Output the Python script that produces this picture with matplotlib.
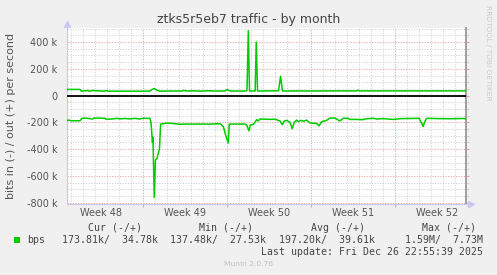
import matplotlib
matplotlib.use("Agg")
import matplotlib.pyplot as plt
from matplotlib.patches import Rectangle
import numpy as np

# ---- data (days relative to start of Week 49; values in bits/s) ----
out_days = [-6.33, -5.25, -5.13, -4.6, -4.45, -4.25, -3.2, -3.03, -2.9, -1.0, 0.0, 0.58, 0.75, 0.92,
            1.17, 1.42, 2.0, 3.2, 3.4, 3.7, 4.2, 4.5, 5.0, 5.5, 6.0, 6.8, 6.95, 7.1, 7.3, 8.0,
            8.6, 8.67, 8.78, 8.88, 9.0, 9.35, 9.44, 9.55, 9.7, 10.5, 11.3, 11.47, 11.62, 12.0,
            13.0, 14.0, 15.0, 16.0, 17.8, 17.9, 18.0, 19.0, 20.0, 22.0, 24.0, 26.0, 26.9]
out_vals = [46e3, 46e3, 33e3, 38e3, 33e3, 38e3, 33e3, 38e3, 33e3, 33e3, 33e3, 34e3, 45e3, 53e3,
            40e3, 33e3, 34e3, 34e3, 38e3, 34e3, 36e3, 34e3, 34e3, 36e3, 34e3, 34e3, 42e3, 42e3, 34e3, 34e3,
            34e3, 40e3, 485e3, 35e3, 34e3, 35e3, 400e3, 35e3, 34e3, 35e3, 36e3, 145e3, 35e3, 34e3,
            35e3, 34e3, 35e3, 35e3, 35e3, 40e3, 35e3, 35e3, 35e3, 35e3, 35e3, 35e3, 35e3]

in_days = [-6.33, -6.17, -6.0, -5.67, -5.25, -5.08, -4.83, -4.42, -4.17, -4.08, -3.58, -3.17, -3.08,
           -2.75, -2.33, -2.17, -1.92, -1.5, -1.08, -0.67, -0.25, -0.08, 0.58, 0.67, 0.75, 0.79,
           0.83, 0.94, 1.04, 1.17, 1.25, 1.375, 1.47, 2.0, 2.5, 3.0, 3.5, 4.0, 5.5, 6.42, 6.69,
           6.97, 7.11, 7.19, 8.5, 8.64, 8.83, 8.94, 9.19, 9.33, 9.47, 9.6, 9.75, 10.2, 10.6, 11.0,
           11.42, 11.61, 11.78, 11.97, 12.25, 12.44, 12.61, 12.81, 12.94, 13.17, 13.36, 13.64,
           13.92, 14.47, 14.67, 14.89, 15.31, 15.58, 16.0, 16.4, 16.7, 17.1, 17.25, 17.8, 18.3,
           18.6, 19.2, 19.5, 20.0, 20.86, 21.5, 23.0, 23.36, 23.45, 23.64, 24.75, 25.6, 26.7, 26.9]
in_vals = [186e3, 183e3, 188e3, 188e3, 188e3, 170e3, 168e3, 172e3, 175e3, 168e3, 168e3, 170e3, 176e3,
           176e3, 172e3, 170e3, 174e3, 171e3, 174e3, 170e3, 175e3, 170e3, 170e3, 200e3, 300e3, 350e3,
           310e3, 760e3, 480e3, 470e3, 440e3, 400e3, 213e3, 205e3, 208e3, 214e3, 213e3, 213e3, 213e3, 210e3, 230e3,
           320e3, 354e3, 213e3, 213e3, 220e3, 263e3, 220e3, 215e3, 200e3, 180e3, 190e3, 175e3, 176e3, 178e3, 176e3,
           190e3, 218e3, 190e3, 185e3, 200e3, 248e3, 200e3, 183e3, 195e3, 185e3, 192e3, 183e3,
           205e3, 208e3, 226e3, 195e3, 185e3, 168e3, 168e3, 190e3, 169e3, 170e3, 178e3, 178e3, 180e3,
           173e3, 170e3, 175e3, 172e3, 178e3, 172e3, 170e3, 231e3, 200e3, 170e3, 172e3, 173e3, 171e3, 174e3]

week_boundaries = [0, 7, 14, 21]
week_label_days = [-3.5, 3.5, 10.5, 17.5, 24.5]
week_labels = ["Week 48", "Week 49", "Week 50", "Week 51", "Week 52"]
y_major = [-800e3, -600e3, -400e3, -200e3, 0, 200e3, 400e3]
y_labels = ["-800 k", "-600 k", "-400 k", "-200 k", "0", "200 k", "400 k"]

title = "ztks5r5eb7 traffic - by month"
ylabel = "bits in (-) / out (+) per second"
headers = ["Cur (-/+)", "Min (-/+)", "Avg (-/+)", "Max (-/+)"]
stats = ["173.81k/  34.78k", "137.48k/  27.53k", "197.20k/  39.61k", "1.59M/  7.73M"]
series_name = "bps"
last_update = "Last update: Fri Dec 26 22:55:39 2025"
footer = "Munin 2.0.76"
side_text = "RRDTOOL / TOBI OETIKER"

# ---- figure ----
W, H = 497, 275
fig = plt.figure(figsize=(W / 100, H / 100), dpi=100, facecolor="#F0F0F0")
L, R, T, B = 67, 466, 28, 204
ax = fig.add_axes([L / W, 1 - B / H, (R - L) / W, (B - T) / H])
ax.set_facecolor("white")

ax.set_xlim(-6.33, 26.92)
ax.set_ylim(-810e3, 505e3)

green = "#00CC00"
ax.plot(out_days, out_vals, color=green, lw=1.1, zorder=4)
ax.plot(in_days, -np.array(in_vals), color=green, lw=1.1, zorder=4)
ax.axhline(0, color="black", lw=1.3, zorder=3)

# grid
ax.set_xticks(week_boundaries)
ax.set_xticks(np.arange(-6, 27, 1), minor=True)
ax.set_yticks(y_major)
ax.set_yticklabels(y_labels)
ax.set_yticks(np.arange(-800e3, 505e3, 50e3), minor=True)
ax.grid(which="minor", color="#d2d2d2", lw=0.7, linestyle=(0, (1.2, 1.5)), zorder=1)
ax.grid(which="major", color="#e9a3a3", lw=0.7, linestyle=(0, (1.2, 1.5)), zorder=2)

ax.tick_params(axis="x", which="major", labelbottom=False, length=2.5, color="#e9a3a3", direction="out")
ax.tick_params(axis="x", which="minor", length=0)
ax.tick_params(axis="y", which="major", left=False, right=True, labelleft=True, length=2,
               color="#e9a3a3", labelsize=7, labelcolor="#555555", pad=5)
ax.tick_params(axis="y", which="minor", left=False, right=True, length=2, color="#cccccc")

for lab in ax.get_yticklabels():
    lab.set_fontfamily("DejaVu Sans")

for d, lab in zip(week_label_days, week_labels):
    ax.text(d, -0.05, lab, transform=ax.get_xaxis_transform(), ha="center", va="center",
            fontsize=7, color="#555555")

ax.spines["top"].set_visible(False)
ax.spines["left"].set_color("#c8c8ee")
ax.spines["bottom"].set_color("#c8c8ee")
ax.spines["left"].set_linewidth(0.8)
ax.spines["bottom"].set_linewidth(0.8)
ax.spines["right"].set_color("#a0a0a0")
ax.spines["right"].set_linewidth(1.4)

# axis arrows
ax.plot([0], [1.025], marker="^", ms=4, color="#c8c8ee", transform=ax.transAxes, clip_on=False)
ax.plot([1.013], [0], marker=">", ms=4, color="#c8c8ee", transform=ax.transAxes, clip_on=False)

def fx(px):
    return px / W

def fy(py):
    return 1 - py / H

fig.text(fx(248.5), fy(19), title, ha="center", va="center", fontsize=9, color="#444444")
fig.text(fx(11), fy(116), ylabel, ha="center", va="center", rotation=90, fontsize=8, color="#555555")
fig.text(fx(488), fy(53), side_text, ha="center", va="center", rotation=270, fontsize=5.4, color="#cccccc")

mono = "DejaVu Sans Mono"
hdr_right = [142.3, 253.3, 365, 476]
for x, h in zip(hdr_right, headers):
    fig.text(fx(x), fy(228), h, ha="right", va="center", fontsize=7.1, family=mono, color="#444444")
stat_right = [157.7, 265.7, 374.7, 482.7]
for x, s in zip(stat_right, stats):
    fig.text(fx(x), fy(240), s, ha="right", va="center", fontsize=7.1, family=mono, color="#444444")
fig.text(fx(26.7), fy(240), series_name, ha="left", va="center", fontsize=7.1, family=mono, color="#444444")
fig.patches.append(Rectangle((fx(14), fy(243)), 6 / W, 6 / H, transform=fig.transFigure,
                             facecolor=green, edgecolor="none"))
fig.text(fx(482.7), fy(252), last_update, ha="right", va="center", fontsize=7.1, family=mono, color="#444444")
fig.text(fx(248), fy(264), footer, ha="center", va="center", fontsize=5.4, color="#c0c0c0")

fig.savefig("out.png", dpi=100, facecolor=fig.get_facecolor())
